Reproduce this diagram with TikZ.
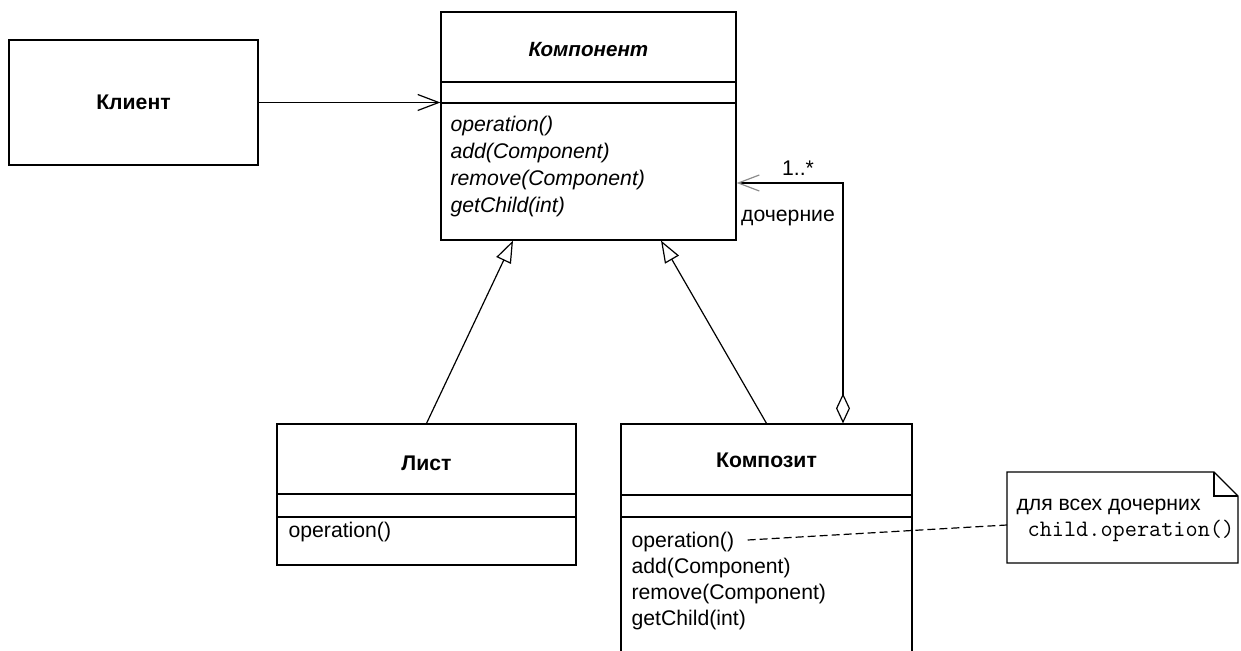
\documentclass[tikz,border=0pt]{standalone}
\usepackage{fontspec}
\setmainfont{Liberation Sans}
\usetikzlibrary{arrows.meta,positioning,calc}

\begin{document}
\begin{tikzpicture}[x=0.5pt, y=-0.5pt, line width=0.6pt,
  box/.style={draw, rectangle, inner sep=0pt},
  cname/.style={font=\fontsize{10.6}{13}\selectfont\bfseries},
  op/.style={font=\fontsize{10.6}{13}\selectfont, anchor=west, inner sep=0pt},
  uses/.style={-{Straight Barb[length=10.5pt,width=8pt]}},
  isa/.style={-{Triangle[open,length=11pt,width=8pt]}}]
\useasboundingbox (0,0) rectangle (1241,651);
\clip (0,0) rectangle (1241,651);
% client
\node[box, cname, minimum width=124.5pt, minimum height=62.5pt] (client) at (133.5,102.5) {Клиент};
% component (abstract)
\node[box, minimum width=147.5pt, minimum height=114pt] (comp) at (588.5,126) {};
\node[cname, font=\fontsize{10.3}{13}\selectfont\bfseries\itshape] (compname) at (588.5,50) {Компонент};
\draw (441,82) -- (736,82) (441,103) -- (736,103);
\foreach \t [count=\i] in {operation(), add(Component), remove(Component), getChild(int)}
  \node[op, font=\fontsize{10.6}{13}\selectfont\itshape] (aop\i) at (450,99+27*\i) {\t};
% leaf
\node[box, minimum width=149.5pt, minimum height=70.5pt] (leaf) at (426.5,494.5) {};
\node[cname] (leafname) at (426.5,463) {Лист};
\draw (277,494) -- (576,494) (277,517) -- (576,517);
\node[op] (lop1) at (288,532) {operation()};
% composite (runs off the bottom edge)
\node[box, minimum width=145.5pt, minimum height=128pt] (compo) at (766.5,552) {};
\node[cname] (componame) at (766.5,460) {Композит};
\draw (621,495) -- (912,495) (621,517) -- (912,517);
\foreach \t [count=\i] in {operation(), add(Component), remove(Component), getChild(int)}
  \node[op] (cop\i) at (631,516+26*\i) {\t};
% note
\coordinate (nl) at (1007,525);
\draw (1007,472) -- (1214,472) -- (1238,496) -- (1238,563) -- (1007,563) -- cycle;
\draw (1214,472) |- (1238,496);
\node[op] (note1) at (1016,507) {для всех дочерних};
\node[op, font=\fontsize{11.8}{13}\selectfont\ttfamily] (note2) at (1027,531) {child.operation()};
% connectors
\draw[uses] (client.east) -- (client.east -| comp.west);
\draw[isa] (leaf.north) -- ($(comp.south)+(-75.5,0)$);
\draw[isa] (compo.north) -- ($(comp.south)+(72.5,0)$);
\draw[{Diamond[open,length=15pt,width=7pt]}-{Straight Barb[length=10.5pt,width=8pt,color=black!45]}]
  ($(compo.north)+(76.5,0)$) |- ($(comp.east)+(0,57)$);
\node[op, anchor=center] (mult) at (798,168) {1..*};
\node[op, anchor=center] (role) at (788,218) {дочерние};
\draw[dashed, dash pattern=on 4pt off 2pt] ($(cop1.east)+(13,-2)$) -- (nl);
\end{tikzpicture}
\end{document}
